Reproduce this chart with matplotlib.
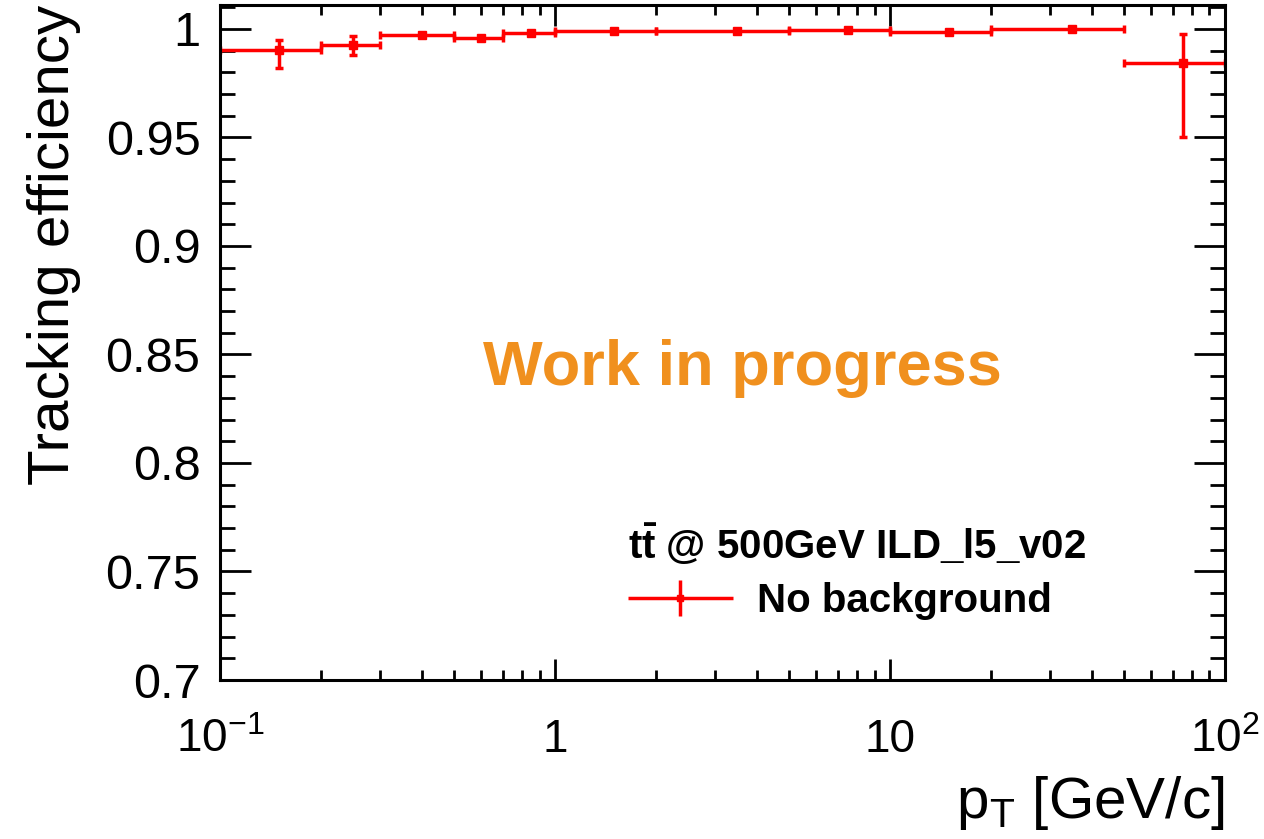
import numpy as np
import matplotlib
matplotlib.use('Agg')
import matplotlib.pyplot as plt
from matplotlib.container import ErrorbarContainer
from matplotlib.legend_handler import HandlerErrorbar
from matplotlib.ticker import FixedLocator, FixedFormatter, FuncFormatter, MultipleLocator, LogLocator, NullFormatter

plt.rcParams['font.family'] = ['Liberation Sans', 'DejaVu Sans']
plt.rcParams['mathtext.fontset'] = 'custom'
plt.rcParams['mathtext.rm'] = 'Liberation Sans'
plt.rcParams['mathtext.bf'] = 'Liberation Sans:bold'

# pT bins [GeV/c]
bin_low = [0.1, 0.2, 0.3, 0.5, 0.7, 1.0, 2.0, 5.0, 10.0, 20.0, 50.0]
bin_high = [0.2, 0.3, 0.5, 0.7, 1.0, 2.0, 5.0, 10.0, 20.0, 50.0, 100.0]
efficiency = [0.9902, 0.9928, 0.9972, 0.9959, 0.9980, 0.9991, 0.9991, 0.9997, 0.9988, 0.9999, 0.9844]
err_up = [0.0047, 0.0041, 0.0008, 0.0009, 0.0007, 0.0004, 0.0004, 0.0003, 0.0005, 0.0001, 0.0131]
err_down = [0.0083, 0.0046, 0.0008, 0.0009, 0.0007, 0.0004, 0.0004, 0.0003, 0.0005, 0.0004, 0.0344]

lo = np.array(bin_low)
hi = np.array(bin_high)
centers = (lo + hi) / 2

fig = plt.figure(figsize=(12.64, 8.39), dpi=100)
ax = fig.add_axes([0.174, 0.1895, 0.795, 0.8045])

ax.errorbar(centers, efficiency, xerr=[centers - lo, hi - centers],
            yerr=[err_down, err_up], fmt='s', color='#ff0000', ms=6,
            elinewidth=2.5, capsize=3, capthick=2.5)

# proxy for the legend entry (ROOT style: no caps)
proxy = ax.errorbar([np.nan], [np.nan], xerr=[1], yerr=[1], fmt='s', color='#ff0000',
                    ms=5, elinewidth=2.5, capsize=0, label='No background')

ax.set_xscale('log')
ax.set_xlim(0.1, 100)
ax.set_ylim(0.7, 1.011)

ax.xaxis.set_major_locator(FixedLocator([0.1, 1, 10, 100]))
ax.xaxis.set_major_formatter(FixedFormatter([r'$10^{-1}$', '1', '10', r'$10^{2}$']))
ax.xaxis.set_minor_locator(LogLocator(base=10, subs=np.arange(2, 10)))
ax.xaxis.set_minor_formatter(NullFormatter())
ax.yaxis.set_major_locator(MultipleLocator(0.05))
ax.yaxis.set_minor_locator(MultipleLocator(0.01))
ax.yaxis.set_major_formatter(FuncFormatter(lambda v, p: '%g' % round(v, 3)))

for s in ax.spines.values():
    s.set_linewidth(2.2)
ax.tick_params(which='both', direction='in', top=True, right=True, width=2)
ax.tick_params(axis='x', which='major', length=15, pad=27, labelsize=33)
ax.tick_params(axis='x', which='minor', length=7.5)
ax.tick_params(axis='y', which='major', length=22, pad=14, labelsize=35)
ax.tick_params(axis='y', which='minor', length=11)

ax.set_xlabel(r'p$_{\rm T}$ [GeV/c]', fontsize=42, loc='right', labelpad=9)
ax.set_ylabel('Tracking efficiency', fontsize=42, loc='top', labelpad=18)

ax.text(0.52, 0.462, 'Work in progress', transform=ax.transAxes, color='#f0901e',
        fontsize=45.5, fontweight='bold', ha='center', va='center')

leg = ax.legend(handles=[proxy], loc='upper left',
                bbox_to_anchor=(628 / 1264, 1 - 521 / 839), bbox_transform=fig.transFigure,
                frameon=False, borderpad=0, borderaxespad=0,
                title=r'$\mathbf{t\bar{t}}$ @ 500GeV ILD_l5_v02',
                title_fontproperties={'size': 29, 'weight': 'bold'},
                prop={'size': 29, 'weight': 'bold'}, handlelength=2.6,
                handletextpad=0.6, labelspacing=0.38,
                handler_map={ErrorbarContainer: HandlerErrorbar(xerr_size=1.3, yerr_size=0.45)})
leg._legend_box.align = 'left'

fig.savefig('out.png', dpi=100)
